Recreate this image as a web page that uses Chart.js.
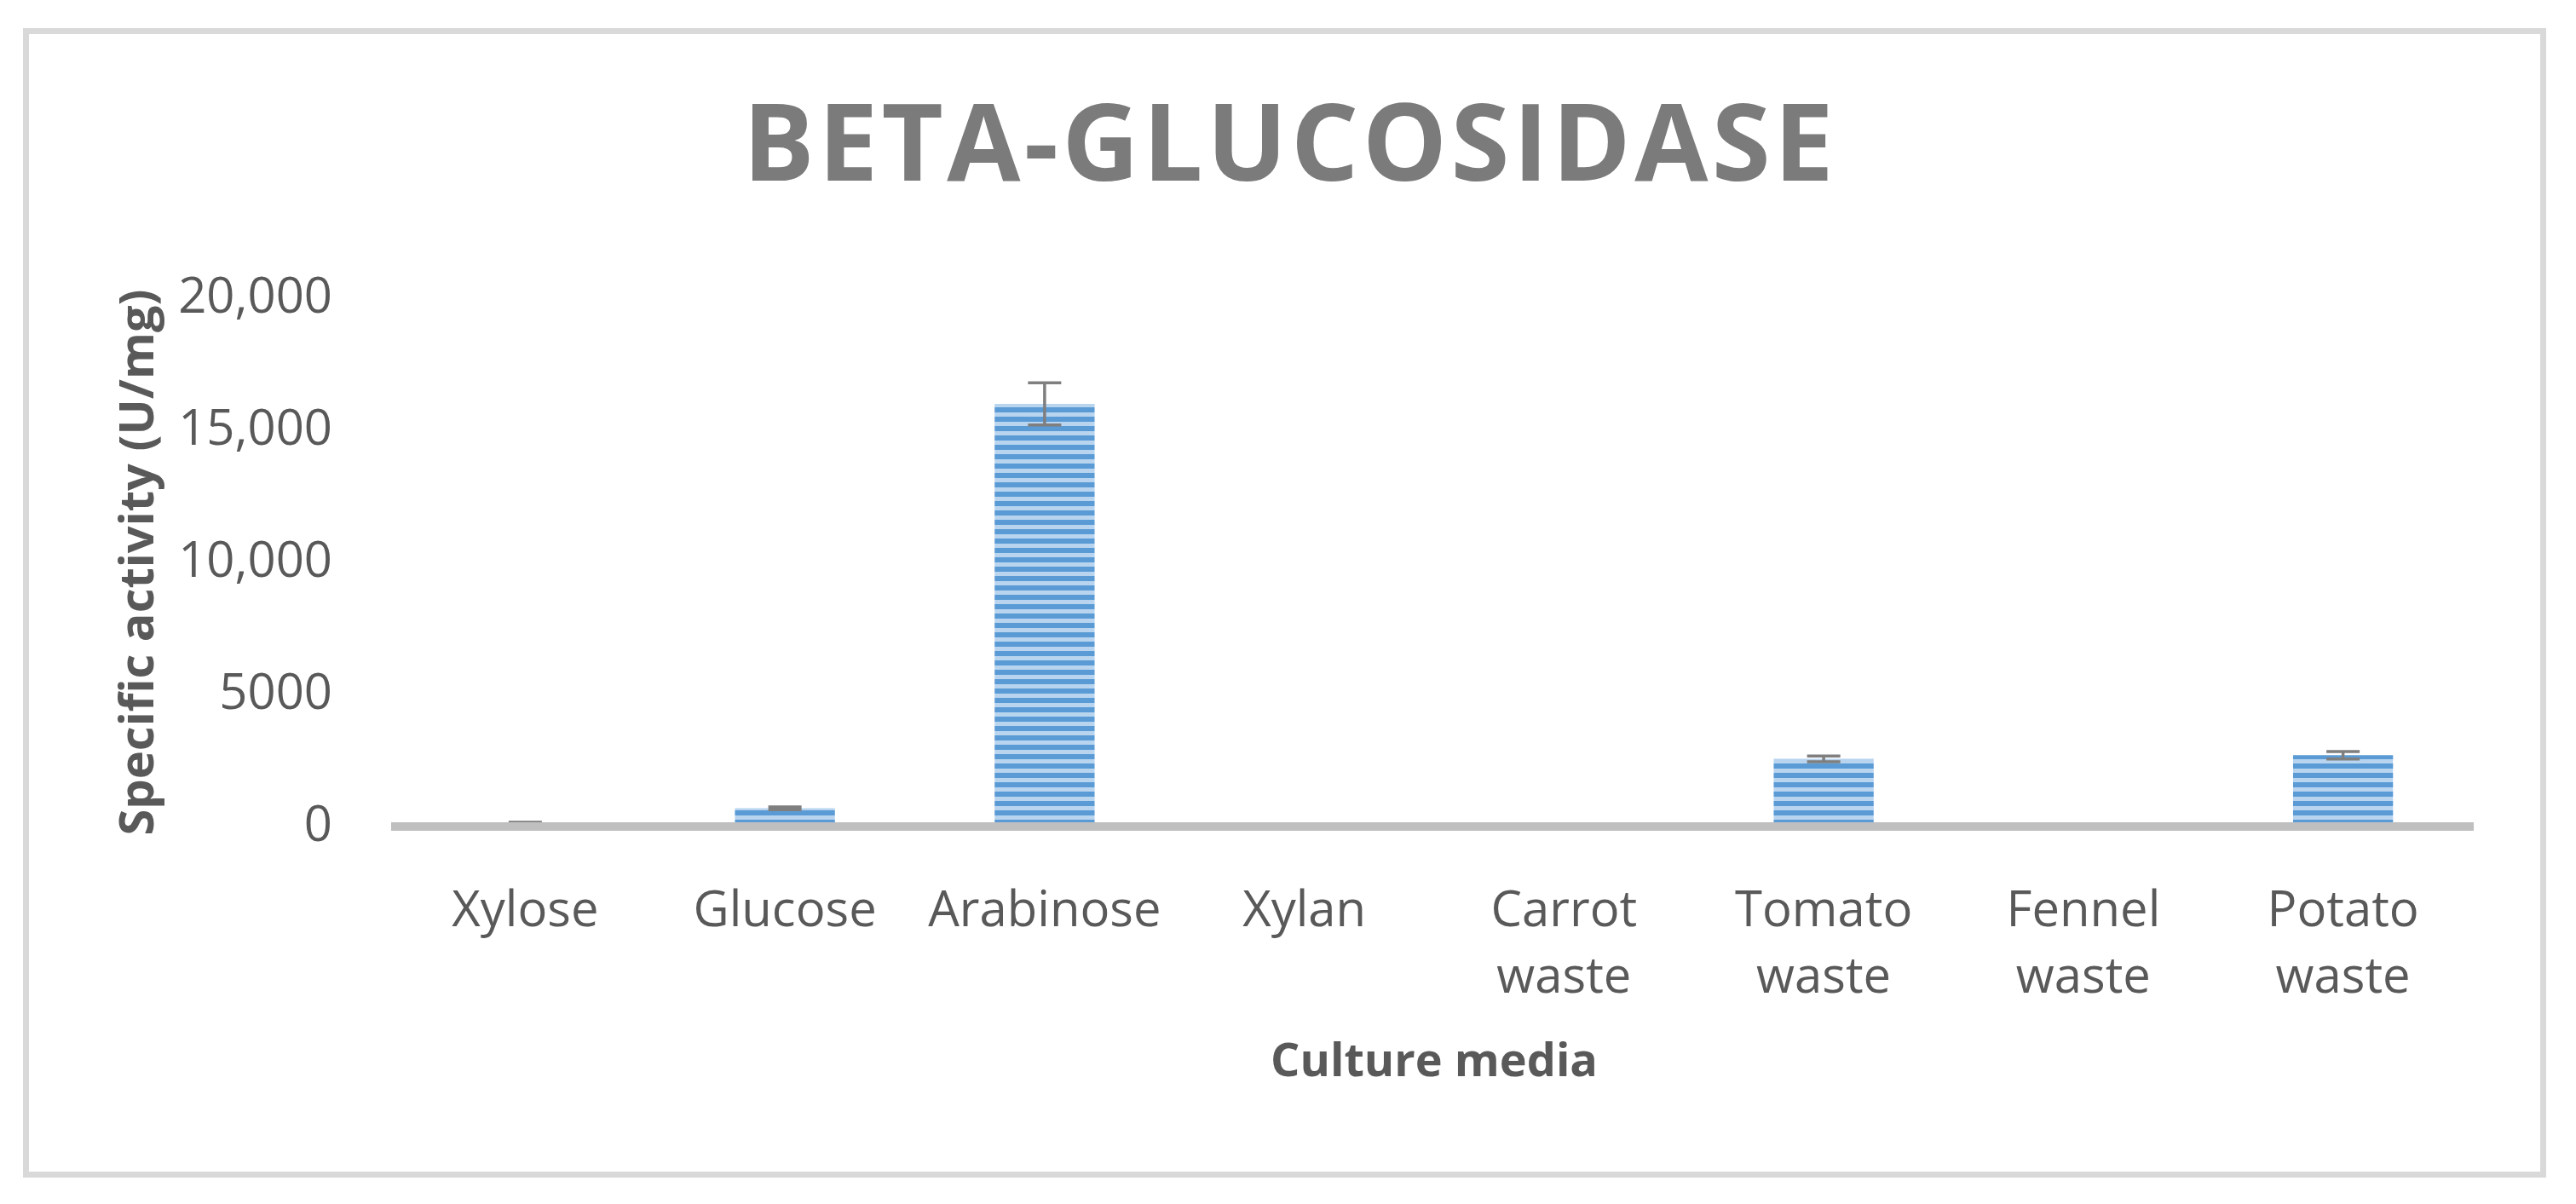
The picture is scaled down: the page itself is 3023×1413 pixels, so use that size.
<!DOCTYPE html>
<html>
<head>
<meta charset="utf-8">
<script src="https://cdn.jsdelivr.net/npm/chart.js@4"></script>
<style>
html,body{margin:0;padding:0;background:#fff;}
#wrap{position:relative;width:3023px;height:1413px;overflow:hidden;}
#c{position:absolute;left:0;top:0;}
#frame{position:absolute;left:27px;top:33px;width:2961px;height:1349px;box-sizing:border-box;border:7px solid #d9d9d9;pointer-events:none;}
</style>
</head>
<body>
<div id="wrap"><canvas id="c" width="3023" height="1413"></canvas><div id="frame"></div></div>
<script>
// ---- data ----
const chartTitle = 'BETA-GLUCOSIDASE';
const xAxisTitle = 'Culture media';
const yAxisTitle = 'Specific activity (U/mg)';
const categories = [
  ['Xylose'], ['Glucose'], ['Arabinose'], ['Xylan'],
  ['Carrot', 'waste'], ['Tomato', 'waste'], ['Fennel', 'waste'], ['Potato', 'waste']
];
const activity = [100, 690, 16000, 0, 0, 2560, 0, 2700];
const activityError = [60, 50, 800, 0, 0, 110, 0, 140];
const yTickValues = [0, 5000, 10000, 15000, 20000];
const yTickLabels = ['0', '5000', '10,000', '15,000', '20,000'];

// ---- styling ----
Chart.defaults.font.family = '"Open Sans", "Segoe UI", sans-serif';
const ctx = document.getElementById('c').getContext('2d');

function stripePattern() {
  const c = document.createElement('canvas');
  c.width = 4; c.height = 11;
  const g = c.getContext('2d');
  g.fillStyle = '#b8d4ef';
  g.fillRect(0, 0, 4, 11);
  g.fillStyle = '#5b9bd5';
  g.fillRect(0, 5, 4, 6);
  return ctx.createPattern(c, 'repeat');
}

const titleSpacing = {
  id: 'titleSpacing',
  beforeDraw(chart) { chart.ctx.letterSpacing = '4.3px'; },
  beforeDatasetsDraw(chart) { chart.ctx.letterSpacing = '0px'; }
};

const errorBars = {
  id: 'errorBars',
  afterDatasetsDraw(chart) {
    const c = chart.ctx;
    const meta = chart.getDatasetMeta(0);
    const ys = chart.scales.y;
    c.save();
    c.strokeStyle = '#7f7f7f';
    c.lineWidth = 3.5;
    meta.data.forEach((bar, i) => {
      const e = activityError[i];
      if (!e) return;
      const v = activity[i];
      const yTop = ys.getPixelForValue(v + e);
      const yBot = ys.getPixelForValue(v - e);
      const x = bar.x, hw = 19.5;
      c.beginPath();
      c.moveTo(x, yTop); c.lineTo(x, yBot);
      c.moveTo(x - hw, yTop); c.lineTo(x + hw, yTop);
      c.moveTo(x - hw, yBot); c.lineTo(x + hw, yBot);
      c.stroke();
    });
    c.restore();
  }
};

new Chart(ctx, {
  type: 'bar',
  data: {
    labels: categories,
    datasets: [{
      label: 'Specific activity',
      data: activity,
      backgroundColor: stripePattern(),
      borderWidth: 0,
      categoryPercentage: 1,
      barPercentage: 0.385
    }]
  },
  options: {
    responsive: false,
    animation: false,
    devicePixelRatio: 1,
    layout: { padding: { top: 40, left: 126, right: 121, bottom: 60 } },
    plugins: {
      legend: { display: false },
      tooltip: { enabled: false },
      title: {
        display: true,
        text: chartTitle,
        color: '#7b7b7b',
        font: { size: 125, weight: 'bold', lineHeight: 1.2 },
        padding: { top: 61, bottom: 99 }
      }
    },
    scales: {
      x: {
        grid: { display: false, z: 1 },
        border: { display: true, color: '#bfbfbf', width: 10, z: 1 },
        ticks: {
          color: '#595959',
          font: { size: 58, lineHeight: 78 / 58 },
          padding: 53,
          maxRotation: 0,
          autoSkip: false,
          z: 1
        },
        title: {
          display: true,
          text: xAxisTitle,
          color: '#595959',
          font: { size: 54, weight: 'bold', lineHeight: 1.2 },
          padding: { top: 0, bottom: 72.6 }
        },
        afterFit(s) { s.height = 383; }
      },
      y: {
        min: 0,
        max: 20000,
        grid: { display: false, z: 1 },
        border: { display: false, z: 1 },
        ticks: {
          stepSize: 5000,
          color: '#595959',
          font: { size: 58 },
          padding: 66,
          z: 1,
          callback: (v) => {
            const k = yTickValues.indexOf(v);
            return k >= 0 ? yTickLabels[k] : '';
          }
        },
        title: {
          display: true,
          text: yAxisTitle,
          color: '#595959',
          font: { size: 56, weight: 'bold', lineHeight: 1.2 },
          padding: { top: 4, bottom: 0 }
        },
        afterFit(s) { s.width = 338; }
      }
    }
  },
  plugins: [titleSpacing, errorBars]
});
</script>
</body>
</html>
